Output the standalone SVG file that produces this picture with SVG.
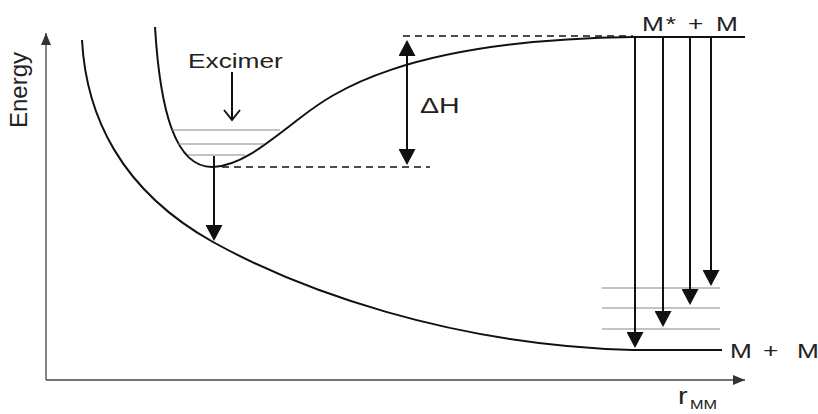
<svg xmlns="http://www.w3.org/2000/svg" width="818" height="414" viewBox="0 0 818 414">
<style>
  .curve{fill:none;stroke:#111;stroke-width:2}
  .axis{fill:none;stroke:#444;stroke-width:1.3}
  .lvl{fill:none;stroke:#888;stroke-width:1.2}
  .dash{fill:none;stroke:#111;stroke-width:1.6;stroke-dasharray:7 5}
  .arr{fill:none;stroke:#111;stroke-width:2}
  .txt{font-family:"Liberation Sans",Arial,sans-serif;fill:#222}
</style>
<defs>
  <marker id="ah" markerUnits="userSpaceOnUse" markerWidth="16" markerHeight="17" viewBox="0 0 16 17" refX="10" refY="8.5" orient="auto-start-reverse">
    <path d="M0,0 L16,8.5 L0,17 z" fill="#111"/>
  </marker>
  <marker id="vh" markerUnits="userSpaceOnUse" markerWidth="14" markerHeight="20" viewBox="-1 -2 14 20" refX="10" refY="8" orient="auto">
    <path d="M0,0 L10,8 L0,16" fill="none" stroke="#111" stroke-width="2"/>
  </marker>
  <marker id="axh" markerUnits="userSpaceOnUse" markerWidth="12" markerHeight="10" viewBox="0 0 12 10" refX="12" refY="5" orient="auto">
    <path d="M0,0 L12,5 L0,10 z" fill="#333"/>
  </marker>
</defs>

<g id="axes">
  <line class="axis" x1="46" y1="380" x2="46" y2="33" marker-end="url(#axh)"/>
  <line class="axis" x1="46" y1="380" x2="745" y2="380" marker-end="url(#axh)"/>
</g>

<g id="ground-curve">
  <path class="curve" d="M82,40 C86,115 120,190 213,242 C300,290 450,345 633,350 L722,350"/>
</g>

<g id="excimer-curve">
  <path class="curve" d="M155,27 C160,110 175,168 213,167 C240,166 265,145 300,118 C330,95 400,40 633,37 L745,37"/>
</g>

<g id="excimer-levels">
  <line class="lvl" x1="172" y1="130" x2="280" y2="130"/>
  <line class="lvl" x1="178" y1="144" x2="264" y2="144"/>
  <line class="lvl" x1="188" y1="155" x2="245" y2="155"/>
</g>

<g id="ground-levels">
  <line class="lvl" x1="602" y1="288" x2="720" y2="288"/>
  <line class="lvl" x1="602" y1="308" x2="720" y2="308"/>
  <line class="lvl" x1="602" y1="329" x2="720" y2="329"/>
</g>

<g id="dashed-refs">
  <line class="dash" x1="222" y1="167" x2="430" y2="167"/>
  <line class="dash" x1="403" y1="36" x2="633" y2="36"/>
</g>

<g id="connectors">
  <line class="arr" x1="232" y1="72" x2="232" y2="120" marker-end="url(#vh)"/>
  <line class="arr" x1="214" y1="156" x2="214" y2="235" marker-end="url(#ah)"/>
  <line class="arr" x1="407" y1="46" x2="407" y2="159" marker-start="url(#ah)" marker-end="url(#ah)"/>
  <line class="arr" x1="635" y1="37" x2="635" y2="342" marker-end="url(#ah)"/>
  <line class="arr" x1="663" y1="37" x2="663" y2="321" marker-end="url(#ah)"/>
  <line class="arr" x1="690" y1="37" x2="690" y2="299" marker-end="url(#ah)"/>
  <line class="arr" x1="711" y1="37" x2="711" y2="280" marker-end="url(#ah)"/>
</g>

<g id="labels">
  <text class="txt" transform="translate(27,90) rotate(-90)" text-anchor="middle" font-size="24">Energy</text>
  <text class="txt" transform="translate(188,68) scale(1.25,1)" font-size="21">Excimer</text>
  <text class="txt" transform="translate(420,113) scale(1.3,1)" font-size="22">ΔH</text>
  <text class="txt" transform="translate(642,31) scale(1.25,1)" font-size="21">M<tspan x="19">*</tspan><tspan x="36.8">+</tspan><tspan x="59.2">M</tspan></text>
  <text class="txt" transform="translate(730,358) scale(1.25,1)" font-size="21">M<tspan x="26.4">+</tspan><tspan x="53.6">M</tspan></text>
  <text class="txt" transform="translate(678,404) scale(1.25,1)" font-size="23">r<tspan x="9.6" y="5" font-size="13">MM</tspan></text>
</g>
</svg>
